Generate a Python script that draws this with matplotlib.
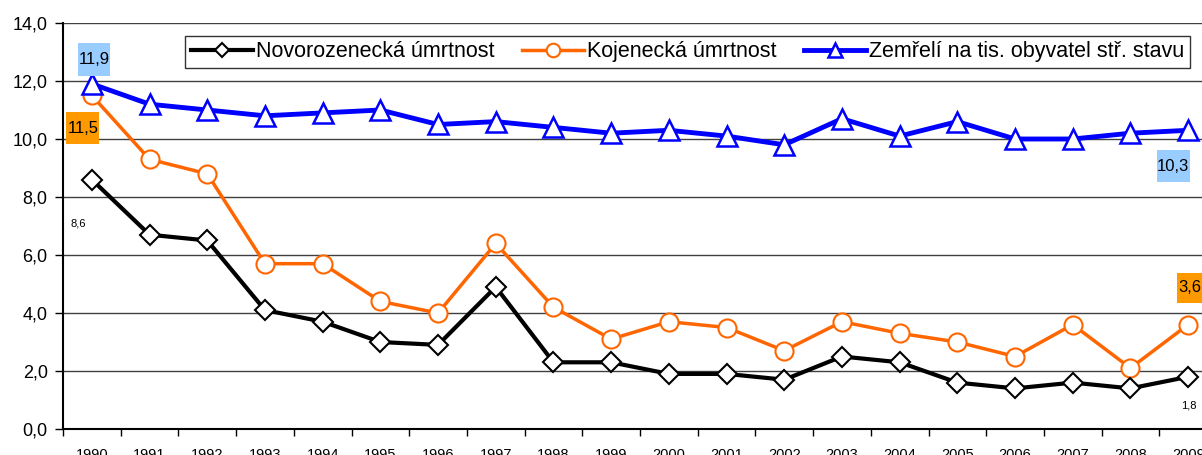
import numpy as np
import matplotlib
matplotlib.use("Agg")
from matplotlib import pyplot as plt
from matplotlib.ticker import MultipleLocator, FixedLocator
from matplotlib.patches import Rectangle
from matplotlib.transforms import ScaledTranslation

plt.rcParams['font.family'] = ['Liberation Sans', 'DejaVu Sans']

# Data
years = [str(y) for y in range(1990, 2010)]
novorozenecka = [8.6, 6.7, 6.5, 4.1, 3.7, 3.0, 2.9, 4.9, 2.3, 2.3,
                 1.9, 1.9, 1.7, 2.5, 2.3, 1.6, 1.4, 1.6, 1.4, 1.8]
kojenecka = [11.5, 9.3, 8.8, 5.7, 5.7, 4.4, 4.0, 6.4, 4.2, 3.1,
             3.7, 3.5, 2.7, 3.7, 3.3, 3.0, 2.5, 3.6, 2.1, 3.6]
zemreli = [11.9, 11.2, 11.0, 10.8, 10.9, 11.0, 10.5, 10.6, 10.4, 10.2,
           10.3, 10.1, 9.8, 10.7, 10.1, 10.6, 10.0, 10.0, 10.2, 10.3]

fig = plt.figure(figsize=(12.02, 4.55), dpi=100)
# axes runs a bit past the right edge, like the cropped original
ax = fig.add_axes([63 / 1202, 26 / 455, 1154 / 1202, 406 / 455])

x = np.arange(len(years))

ax.plot(x, novorozenecka, color='black', lw=3, marker='D', ms=10,
        mfc='white', mec='black', mew=1.5, label='Novorozenecká úmrtnost', zorder=4)
ax.plot(x, kojenecka, color='#FF6600', lw=2.5, marker='o', ms=13,
        mfc='white', mec='#FF6600', mew=1.5, label='Kojenecká úmrtnost', zorder=3)
ax.plot(x, zemreli, color='#0000FF', lw=3.5, marker='^', ms=14,
        mfc='white', mec='#0000FF', mew=1.8, label='Zemřelí na tis. obyvatel stř. stavu', zorder=3)

ax.set_xlim(-0.5, len(years) - 0.5)
ax.set_ylim(0, 14)
ax.yaxis.set_major_locator(MultipleLocator(2))
ax.set_yticklabels([f"{v:.1f}".replace('.', ',') for v in ax.get_yticks()])
ax.tick_params(axis='y', labelsize=13, length=6, width=1, direction='out', pad=5)

ax.set_xticks(x)
ax.set_xticklabels(years)
ax.xaxis.set_minor_locator(FixedLocator(np.arange(-0.5, len(years), 1)))
ax.tick_params(axis='x', which='major', length=0, labelsize=10.5, pad=14)
ax.tick_params(axis='x', which='minor', length=5, width=1, direction='out')

ax.grid(axis='y', color='#404040', lw=1)
ax.set_axisbelow(True)
for s in ['top', 'right']:
    ax.spines[s].set_visible(False)
ax.spines['left'].set_linewidth(1.5)
ax.spines['bottom'].set_linewidth(1.5)


# data labels: offsets in pixels from the point, optional coloured box
def label(i, vals, dx, dy, fc=None, box=(32, 32), size=12):
    txt = f"{vals[i]:.1f}".replace('.', ',')
    if fc:
        trans = ScaledTranslation(x[i], vals[i], ax.transData)
        bw, bh = box
        ax.add_patch(Rectangle((dx - bw / 2, dy - bh / 2), bw, bh, transform=trans,
                               fc=fc, ec='none', zorder=5, clip_on=False))
    ax.annotate(txt, (x[i], vals[i]), xytext=(dx, dy), textcoords='offset pixels',
                ha='center', va='center', fontsize=size, zorder=6)


label(0, zemreli, 2, 24, '#99CCFF', (32, 33))
label(0, kojenecka, -9, -33, '#FF9900', (33, 32))
label(0, novorozenecka, -14, -44, None, size=8)
label(19, zemreli, -15, -36, '#99CCFF', (33, 32))
label(19, kojenecka, 2, 37, '#FF9900', (26, 30))
label(19, novorozenecka, 1, -29, None, size=8)

leg = fig.legend(loc='upper right', bbox_to_anchor=(1190 / 1202, 1 - 36 / 455), ncol=3,
                 fontsize=15.5, frameon=True, fancybox=False, edgecolor='black',
                 handlelength=2.9, handletextpad=0.15, columnspacing=1.25,
                 borderpad=0.25, borderaxespad=0, markerscale=0.75)
leg.get_frame().set_linewidth(1)

fig.savefig('out.png', dpi=100)
